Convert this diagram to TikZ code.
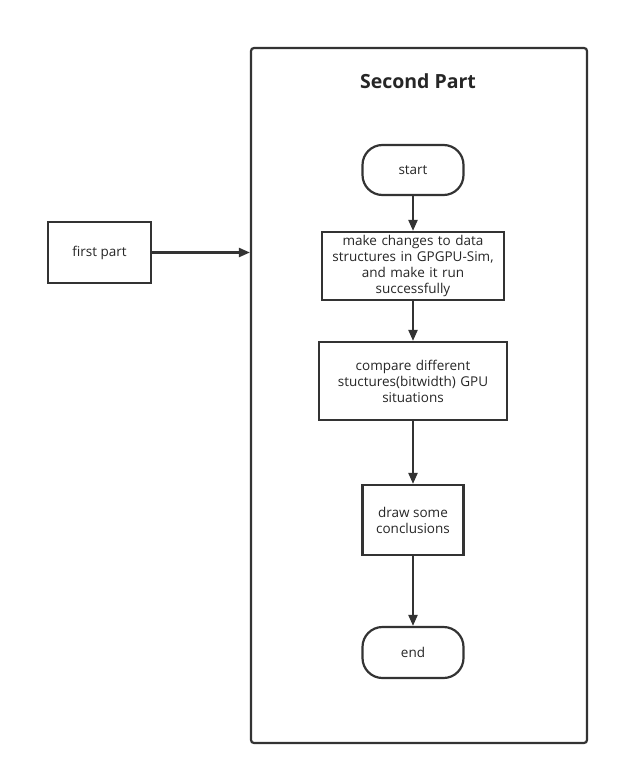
\documentclass[tikz,border=0pt]{standalone}
\usepackage{fontspec}
\setmainfont{Open Sans}
\usetikzlibrary{arrows.meta}

\begin{document}
\begin{tikzpicture}[>={Triangle[length=11pt,width=9pt]},x=1pt,y=-1pt,line width=2.2pt,
  every node/.style={font=\fontsize{13.5}{16}\selectfont,text=black!85},
  box/.style={draw=black!80,align=center,inner sep=2pt},
  term/.style={box,rounded corners=20pt,minimum width=101pt}]
\useasboundingbox (0,0) rectangle (618,776);
\node[box,rounded corners=3pt,minimum width=336pt,minimum height=695pt] (second) at (419,395.5) {};
\node[font=\bfseries\fontsize{19.5}{22}\selectfont] (title) at (418,81) {Second Part};
\node[term,minimum height=50pt] (start) at (413,170) {start};
\node[box,minimum width=182pt,minimum height=68pt,text width=178pt] (change) at (413,266)
  {make changes to data\\ structures in GPGPU-Sim,\\ and make it run\\ successfully};
\node[box,minimum width=188pt,minimum height=78pt,text width=184pt] (compare) at (413,381)
  {compare different\\ stuctures(bitwidth) GPU\\ situations};
\node[box,minimum width=101pt,minimum height=70pt] (draw) at (413,520) {draw some\\ conclusions};
\node[term,minimum height=51pt] (end) at (413,652.5) {end};
\node[box,minimum width=103pt,minimum height=61pt] (first) at (99.5,252.5) {first part};
\draw[->,draw=black!80] (start) -- (change);
\draw[->,draw=black!80] (change) -- (compare);
\draw[->,draw=black!80] (compare) -- (draw);
\draw[->,draw=black!80] (draw) -- (end);
\draw[->,draw=black!80] (first) -- (first -| second.west);
\end{tikzpicture}
\end{document}
